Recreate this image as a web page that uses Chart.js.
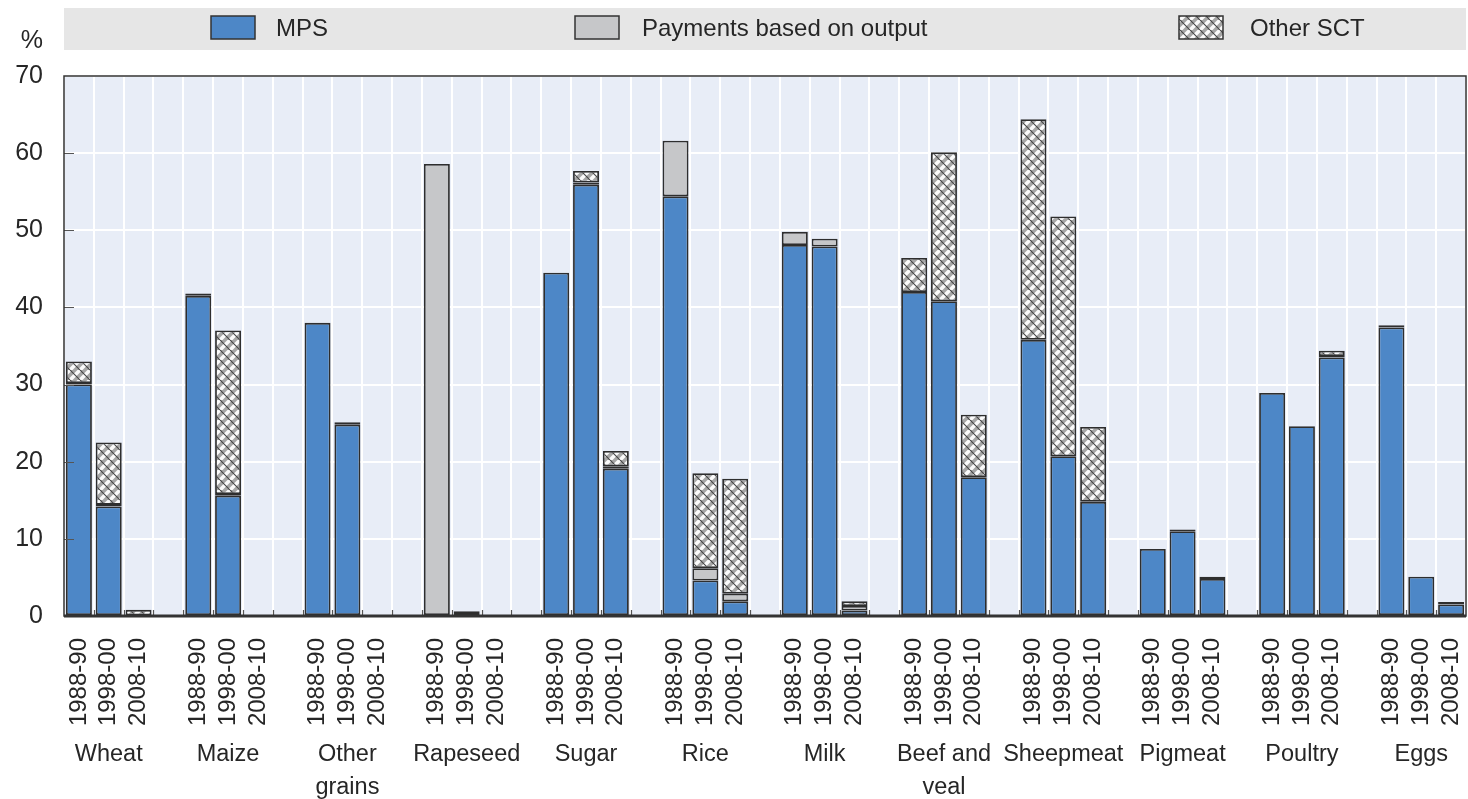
<!DOCTYPE html>
<html>
<head>
<meta charset="utf-8">
<script src="https://cdn.jsdelivr.net/npm/chart.js@4.4.1/dist/chart.umd.min.js"></script>
<style>
body { margin: 0; background: #fff; }
</style>
</head>
<body>
<canvas id="chart" width="1468" height="799"></canvas>
<script>
// commodities (multi-line names), periods and the three stacked series, commodity by commodity
var commodities = [["Wheat"], ["Maize"], ["Other", "grains"], ["Rapeseed"], ["Sugar"], ["Rice"], ["Milk"], ["Beef and", "veal"], ["Sheepmeat"], ["Pigmeat"], ["Poultry"], ["Eggs"]];
var periods = ["1988-90", "1998-00", "2008-10"];
var yTicks = [0, 10, 20, 30, 40, 50, 60, 70];

var mps = [
    30.0, 14.2, 0.1,
    41.5, 15.6, 0,
    38.0, 24.8, 0,
    0, 0.4, 0,
    44.5, 55.9, 19.1,
    54.4, 4.6, 1.9,
    48.1, 47.9, 0.7,
    42.0, 40.8, 18.0,
    35.8, 20.7, 14.8,
    8.7, 11.0, 4.8,
    28.9, 24.6, 33.5,
    37.4, 5.1, 1.5
];
var payments = [
    0.2, 0.2, 0,
    0.3, 0.2, 0,
    0, 0.3, 0,
    58.6, 0.2, 0,
    0, 0.3, 0.3,
    7.2, 1.6, 1.0,
    1.7, 1.0, 0.6,
    0, 0, 0,
    0, 0, 0,
    0, 0.2, 0.3,
    0, 0, 0.2,
    0.3, 0, 0.3
];
var otherSct = [
    2.8, 8.1, 0.7,
    0, 21.2, 0,
    0, 0, 0,
    0, 0, 0,
    0, 1.5, 2.0,
    0, 12.3, 14.9,
    0, 0, 0.6,
    4.4, 19.3, 8.1,
    28.6, 31.1, 9.7,
    0, 0, 0,
    0, 0, 0.7,
    0, 0, 0
];

// slots: 3 bars per commodity, then an empty slot between groups
var labels = [], d1 = [], d2 = [], d3 = [], groupMid = [];
for (var g = 0; g < commodities.length; g++) {
    for (var p = 0; p < periods.length; p++) {
        var k = g * 3 + p;
        if (p == 1) groupMid.push(labels.length);
        labels.push(periods[p]);
        d1.push(mps[k] || null);
        d2.push(payments[k] || null);
        d3.push(otherSct[k] || null);
    }
    if (g < commodities.length - 1) {
        labels.push("");
        d1.push(null); d2.push(null); d3.push(null);
    }
}

// hatch for "Other SCT"
function makeHatch() {
    var n = 10;
    var c = document.createElement('canvas');
    c.width = n; c.height = n;
    var x = c.getContext('2d');
    x.fillStyle = '#a6a6a6';
    x.fillRect(0, 0, n, n);
    x.strokeStyle = '#fbfbfb';
    x.lineWidth = 3.6;
    x.beginPath();
    for (var o = -n; o <= 2 * n; o += n) { x.moveTo(o, n); x.lineTo(o + n, 0); }
    x.stroke();
    x.strokeStyle = '#454545';
    x.lineWidth = 1.1;
    x.beginPath();
    for (var o2 = -n; o2 <= 2 * n; o2 += n) { x.moveTo(o2, 0); x.lineTo(o2 + n, n); }
    x.stroke();
    return document.getElementById('chart').getContext('2d').createPattern(c, 'repeat');
}
var hatch = makeHatch();

var FONT = "'Liberation Sans', Arial, sans-serif";
var TXT = '#262626';

var decor = {
    id: 'decor',
    beforeDraw: function (chart) {
        var c = chart.ctx, a = chart.chartArea;
        c.save();
        // legend band
        c.fillStyle = '#e6e6e6';
        c.fillRect(64, 8, 1402, 42);
        // plot background
        c.fillStyle = '#e8edf7';
        c.fillRect(a.left, a.top, a.right - a.left, a.bottom - a.top);
        c.restore();
    },
    afterDatasetsDraw: function (chart) {
        var c = chart.ctx, a = chart.chartArea;
        var xs = chart.scales.x, ys = chart.scales.y;
        c.save();
        // small inner ticks
        c.strokeStyle = '#555';
        c.lineWidth = 1.2;
        c.beginPath();
        yTicks.forEach(function (t) {
            if (t == 0 || t == 70) return;
            var y = Math.round(ys.getPixelForValue(t)) + 0.5;
            c.moveTo(a.left, y); c.lineTo(a.left + 10, y);
        });
        for (var i = 1; i < labels.length; i++) {
            var xb = Math.round((xs.getPixelForValue(i - 1) + xs.getPixelForValue(i)) / 2) + 0.5;
            c.moveTo(xb, a.bottom); c.lineTo(xb, a.bottom - 6);
        }
        c.stroke();
        // frame
        c.strokeStyle = '#333';
        c.lineWidth = 1.5;
        c.strokeRect(a.left, a.top, a.right - a.left, a.bottom - a.top);
        c.lineWidth = 3;
        c.beginPath();
        c.moveTo(a.left, a.bottom); c.lineTo(a.right, a.bottom);
        c.stroke();
        c.restore();
    },
    afterDraw: function (chart) {
        var c = chart.ctx, xs = chart.scales.x;
        c.save();
        c.fillStyle = TXT;
        c.font = '25px ' + FONT;
        c.textAlign = 'right';
        c.textBaseline = 'middle';
        c.fillText('%', 43, 41);
        // commodity names under the period labels
        c.font = '23.5px ' + FONT;
        c.textAlign = 'center';
        commodities.forEach(function (name, gi) {
            var x = xs.getPixelForValue(groupMid[gi]);
            name.forEach(function (line, li) {
                c.fillText(line, x, 755 + li * 33);
            });
        });
        // legend
        var items = [[211, 276], [575, 642], [1179, 1250]];
        c.font = '24px ' + FONT;
        c.textAlign = 'left';
        chart.data.datasets.forEach(function (ds, di) {
            var it = items[di];
            c.fillStyle = ds.backgroundColor;
            c.fillRect(it[0], 16, 44, 23);
            c.strokeStyle = '#333';
            c.lineWidth = 1.5;
            c.strokeRect(it[0], 16, 44, 23);
            c.fillStyle = TXT;
            c.fillText(ds.label, it[1], 29);
        });
        c.restore();
    }
};

var ctx = document.getElementById('chart').getContext('2d');
var chart = new Chart(ctx, {
    type: 'bar',
    data: {
        labels: labels,
        datasets: [
            { label: 'MPS', data: d1, backgroundColor: '#4d87c7' },
            { label: 'Payments based on output', data: d2, backgroundColor: '#c6c7c9' },
            { label: 'Other SCT', data: d3, backgroundColor: hatch }
        ]
    },
    options: {
        responsive: false,
        devicePixelRatio: 1,
        animation: false,
        layout: { padding: { top: 76, right: 2, left: 0, bottom: 0 } },
        datasets: {
            bar: {
                borderColor: '#2e2e2e',
                borderWidth: 1.8,
                borderSkipped: false,
                categoryPercentage: 1.0,
                barPercentage: 0.87
            }
        },
        plugins: {
            legend: { display: false },
            tooltip: { enabled: false }
        },
        scales: {
            x: {
                stacked: true,
                offset: true,
                grid: { color: '#ffffff', lineWidth: 2, drawTicks: false, offset: true },
                border: { display: false },
                ticks: {
                    autoSkip: false,
                    minRotation: 90,
                    maxRotation: 90,
                    padding: 22,
                    color: TXT,
                    font: { family: FONT, size: 24 }
                },
                afterFit: function (s) {
                    s.height = 183;
                    s.paddingLeft = 0;
                    s.paddingRight = 0;
                }
            },
            y: {
                stacked: true,
                min: 0,
                max: 70,
                grid: { color: '#ffffff', lineWidth: 2, drawTicks: false },
                border: { display: false },
                ticks: {
                    stepSize: 10,
                    padding: 21,
                    color: TXT,
                    font: { family: FONT, size: 25 }
                },
                afterFit: function (s) {
                    s.width = 64;
                    s.paddingTop = 0;
                    s.paddingBottom = 0;
                }
            }
        }
    },
    plugins: [decor]
});
</script>
</body>
</html>
